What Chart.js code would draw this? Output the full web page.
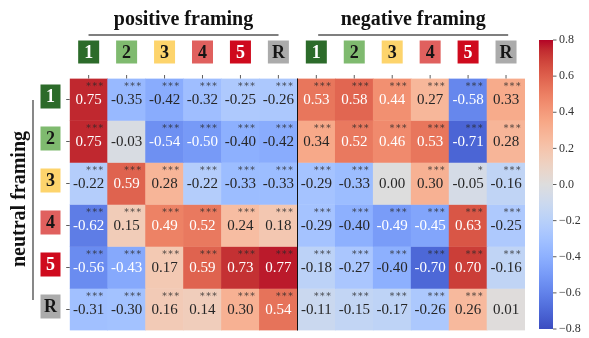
<!DOCTYPE html>
<html>
<head>
<meta charset="utf-8">
<script src="https://cdn.jsdelivr.net/npm/chart.js@4/dist/chart.umd.min.js"></script>
<style>
  html, body { margin: 0; padding: 0; background: #fff; }
  #wrap { position: relative; width: 589px; height: 338px; overflow: hidden; }
  #heat { position: absolute; left: 0; top: 0; }
  #cbar { position: absolute; left: 520px; top: 0; }
</style>
</head>
<body>
<div id="wrap">
  <canvas id="heat" width="589" height="338"></canvas>
  <canvas id="cbar" width="69" height="338"></canvas>
</div>
<script>
// ---- data ----
const rowLabels = ['1', '2', '3', '4', '5', 'R'];          // neutral framing
const colLabels = ['1', '2', '3', '4', '5', 'R'];          // per framing group
const groupTitles = ['positive framing', 'negative framing'];
const sideTitle = 'neutral framing';

const positive = [
  [ 0.75, -0.35, -0.42, -0.32, -0.25, -0.26],
  [ 0.75, -0.03, -0.54, -0.50, -0.40, -0.42],
  [-0.22,  0.59,  0.28, -0.22, -0.33, -0.33],
  [-0.62,  0.15,  0.49,  0.52,  0.24,  0.18],
  [-0.56, -0.43,  0.17,  0.59,  0.73,  0.77],
  [-0.31, -0.30,  0.16,  0.14,  0.30,  0.54]
];
const negative = [
  [ 0.53,  0.58,  0.44,  0.27, -0.58,  0.33],
  [ 0.34,  0.52,  0.46,  0.53, -0.71,  0.28],
  [-0.29, -0.33,  0.00,  0.30, -0.05, -0.16],
  [-0.29, -0.40, -0.49, -0.45,  0.63, -0.25],
  [-0.18, -0.27, -0.40, -0.70,  0.70, -0.16],
  [-0.11, -0.15, -0.17, -0.26,  0.26,  0.01]
];
const positiveStars = [
  ['***', '***', '***', '***', '***', '***'],
  ['***', '',    '***', '***', '***', '***'],
  ['***', '***', '***', '***', '***', '***'],
  ['***', '***', '***', '***', '***', '***'],
  ['***', '***', '***', '***', '***', '***'],
  ['***', '***', '***', '***', '***', '***']
];
const negativeStars = [
  ['***', '***', '***', '***', '***', '***'],
  ['***', '***', '***', '***', '***', '***'],
  ['***', '***', '',    '***', '*',   '***'],
  ['***', '***', '***', '***', '***', '***'],
  ['***', '***', '***', '***', '***', '***'],
  ['***', '***', '***', '***', '***', '']
];
const colorbarTicks = [0.8, 0.6, 0.4, 0.2, 0.0, -0.2, -0.4, -0.6, -0.8];
const vmin = -0.8, vmax = 0.8;

// ---- styling ----
const levelColors = {
  '1': { bg: '#2c6b2a', fg: '#ffffff' },
  '2': { bg: '#7fba6f', fg: '#151515' },
  '3': { bg: '#fdd46c', fg: '#151515' },
  '4': { bg: '#e0605e', fg: '#151515' },
  '5': { bg: '#cf0a1d', fg: '#ffffff' },
  'R': { bg: '#ababab', fg: '#151515' }
};
const SERIF = '"Liberation Serif", "DejaVu Serif", serif';

// diverging blue-grey-red ramp (coolwarm)
const RAMP = [
  [59,76,192],[68,90,204],[77,104,215],[87,117,225],[98,130,234],[108,142,241],
  [119,154,247],[130,165,251],[141,176,254],[152,185,255],[163,194,255],[174,201,253],
  [184,208,249],[194,213,244],[204,217,238],[213,219,230],[221,221,221],[229,216,209],
  [236,211,197],[241,204,184],[245,196,172],[247,187,159],[247,177,147],[247,167,134],
  [244,154,123],[241,141,111],[236,127,99],[229,112,88],[222,96,77],[213,80,66],
  [203,62,56],[192,40,47],[180,4,38]
];
function rampRGB(t) {
  t = Math.min(1, Math.max(0, t));
  const p = t * (RAMP.length - 1);
  const i = Math.min(RAMP.length - 2, Math.floor(p));
  const f = p - i;
  return RAMP[i].map((c, k) => c + (RAMP[i + 1][k] - c) * f);
}
function valueRGB(v) { return rampRGB((v - vmin) / (vmax - vmin)); }
function css(rgb) { return 'rgb(' + rgb.map(Math.round).join(',') + ')'; }
function luminance(rgb) {
  const lin = rgb.map(c => { c /= 255; return c <= 0.03928 ? c / 12.92 : Math.pow((c + 0.055) / 1.055, 2.4); });
  return 0.2126 * lin[0] + 0.7152 * lin[1] + 0.0722 * lin[2];
}
function fmt(v) { return (v < 0 ? '-' : '') + Math.abs(v).toFixed(2); }

// ---- assemble the 6 x 12 grid ----
const columns = colLabels.map(c => 'pos ' + c).concat(colLabels.map(c => 'neg ' + c));
const colShort = colLabels.concat(colLabels);
const matrix = positive.map((row, i) => row.concat(negative[i]));
const stars = positiveStars.map((row, i) => row.concat(negativeStars[i]));

const datasets = rowLabels.map((r, i) => ({
  label: r,
  data: matrix[i].map(() => [i, i + 1]),
  backgroundColor: matrix[i].map(v => css(valueRGB(v))),
  borderWidth: 0,
  barPercentage: 1,
  categoryPercentage: 1,
  grouped: false
}));

function roundRect(ctx, x, y, w, h, fill) {
  ctx.fillStyle = fill;
  ctx.fillRect(x, y, w, h);
}

const cellText = {
  id: 'cellText',
  afterDatasetsDraw(chart) {
    const { ctx, scales: { x, y } } = chart;
    const cw = x.getPixelForValue(1) - x.getPixelForValue(0);
    ctx.save();
    matrix.forEach((row, i) => {
      row.forEach((v, j) => {
        const cx = x.getPixelForValue(j);
        const cy = y.getPixelForValue(i + 0.5);
        const lum = luminance(valueRGB(v));
        ctx.fillStyle = lum > 0.408 ? '#262626' : '#ffffff';
        ctx.font = '15px ' + SERIF;
        ctx.textAlign = 'center';
        ctx.textBaseline = 'middle';
        ctx.fillText(fmt(v), cx, cy + 0.5);
        if (stars[i][j]) {
          ctx.fillStyle = 'rgba(40,40,40,0.85)';
          ctx.font = '9px ' + SERIF;
          ctx.textAlign = 'right';
          ctx.textBaseline = 'middle';
          ctx.fillText(stars[i][j].replace(/\*/g, '\u2217'), cx + cw / 2 - 4, y.getPixelForValue(i) + 6);
        }
      });
    });
    ctx.restore();
  },
  afterDraw(chart) {
    const { ctx, chartArea: a, scales: { x, y } } = chart;
    ctx.save();
    // group divider
    const xd = (x.getPixelForValue(5) + x.getPixelForValue(6)) / 2;
    ctx.strokeStyle = '#111';
    ctx.lineWidth = 1;
    ctx.beginPath();
    ctx.moveTo(Math.round(xd) + 0.5, a.top);
    ctx.lineTo(Math.round(xd) + 0.5, a.bottom);
    ctx.stroke();

    // tick marks
    ctx.strokeStyle = '#333';
    ctx.lineWidth = 0.8;
    columns.forEach((c, j) => {
      const px = x.getPixelForValue(j);
      ctx.beginPath();
      ctx.moveTo(px, a.top - 3.5);
      ctx.lineTo(px, a.top);
      ctx.stroke();
    });
    rowLabels.forEach((r, i) => {
      const py = y.getPixelForValue(i + 0.5);
      ctx.beginPath();
      ctx.moveTo(a.left - 3.5, py);
      ctx.lineTo(a.left, py);
      ctx.stroke();
    });

    // column level badges
    ctx.font = 'bold 18px ' + SERIF;
    ctx.textAlign = 'center';
    ctx.textBaseline = 'middle';
    colShort.forEach((c, j) => {
      const px = x.getPixelForValue(j);
      const s = levelColors[c];
      roundRect(ctx, px - 10.5, 40.5, 21, 23, s.bg);
      ctx.fillStyle = s.fg;
      ctx.fillText(c, px, 53);
    });
    // row level badges
    rowLabels.forEach((r, i) => {
      const py = y.getPixelForValue(i + 0.5) - 3;
      const s = levelColors[r];
      roundRect(ctx, 40.5, py - 12, 20, 24, s.bg);
      ctx.fillStyle = s.fg;
      ctx.fillText(r, 50.5, py + 1);
    });

    // group titles with underline
    ctx.fillStyle = '#111';
    ctx.font = 'bold 20px ' + SERIF;
    ctx.textBaseline = 'alphabetic';
    groupTitles.forEach((t, g) => {
      const cx = (x.getPixelForValue(g * 6) + x.getPixelForValue(g * 6 + 5)) / 2 + g * 2;
      ctx.fillText(t, cx, 25);
      ctx.strokeStyle = '#555';
      ctx.lineWidth = 1.4;
      ctx.beginPath();
      ctx.moveTo(cx - 95, 35);
      ctx.lineTo(cx + 95, 35);
      ctx.stroke();
    });

    // side title
    ctx.save();
    ctx.translate(25, 199);
    ctx.rotate(-Math.PI / 2);
    ctx.fillText(sideTitle, 0, 0);
    ctx.restore();
    ctx.strokeStyle = '#555';
    ctx.lineWidth = 1.4;
    ctx.beginPath();
    ctx.moveTo(33, 100);
    ctx.lineTo(33, 300);
    ctx.stroke();
    ctx.restore();
  }
};

new Chart(document.getElementById('heat'), {
  type: 'bar',
  data: { labels: columns, datasets },
  options: {
    responsive: false,
    animation: false,
    events: [],
    layout: { padding: { left: 69.7, right: 64, top: 78.5, bottom: 7.5 } },
    plugins: { legend: { display: false }, tooltip: { enabled: false } },
    scales: {
      x: { type: 'category', display: false, offset: true },
      y: { type: 'linear', display: false, min: 0, max: 6, reverse: true }
    }
  },
  plugins: [cellText]
});

// ---- colour bar ----
const cbarTicks = {
  id: 'cbarTicks',
  afterDraw(chart) {
    const { ctx, chartArea: a, scales: { y } } = chart;
    ctx.save();
    ctx.strokeStyle = '#333';
    ctx.lineWidth = 0.8;
    ctx.fillStyle = '#333';
    ctx.font = '12px ' + SERIF;
    ctx.textAlign = 'left';
    ctx.textBaseline = 'middle';
    colorbarTicks.forEach(t => {
      const py = y.getPixelForValue(t);
      ctx.beginPath();
      ctx.moveTo(a.right, py);
      ctx.lineTo(a.right + 3.5, py);
      ctx.stroke();
      const lab = (t < 0 ? '\u2212' : '') + Math.abs(t).toFixed(1);
      ctx.fillText(lab, a.right + 6, py);
    });
    ctx.restore();
  }
};

new Chart(document.getElementById('cbar'), {
  type: 'bar',
  data: {
    labels: ['scale'],
    datasets: [{
      data: [[vmin, vmax]],
      borderWidth: 0,
      barPercentage: 1,
      categoryPercentage: 1,
      inflateAmount: 0,
      backgroundColor(context) {
        const { chart } = context;
        const a = chart.chartArea;
        if (!a) return '#ddd';
        const g = chart.ctx.createLinearGradient(0, a.bottom, 0, a.top);
        RAMP.forEach((c, k) => g.addColorStop(k / (RAMP.length - 1), css(c)));
        return g;
      }
    }]
  },
  options: {
    responsive: false,
    animation: false,
    events: [],
    layout: { padding: { left: 19, right: 36, top: 40, bottom: 9 } },
    plugins: { legend: { display: false }, tooltip: { enabled: false } },
    scales: {
      x: { display: false },
      y: { display: false, min: vmin, max: vmax }
    }
  },
  plugins: [cbarTicks]
});
</script>
</body>
</html>
